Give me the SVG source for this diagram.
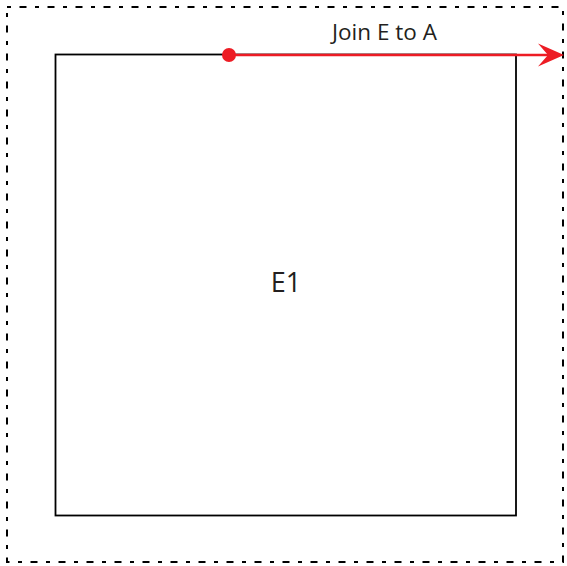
<svg xmlns="http://www.w3.org/2000/svg" width="567" height="566" viewBox="0 0 567 566">
<style>
.frame{fill:none;stroke:#000;stroke-width:2;stroke-dasharray:4 8.5 7 8.5;stroke-dashoffset:0}
.node{fill:#fff;stroke:#000;stroke-width:1.8}
.lbl{font-family:"Open Sans","Noto Sans",sans-serif;fill:#231f20}
.conn{stroke:#ed1c24;stroke-width:2.5;fill:none}
</style>
<rect width="567" height="566" fill="#fff"/>
<path class="frame" d="M7,7 H563 V562 H7 Z" stroke-dasharray="7 8.4" stroke-dashoffset="3"/>
<g id="E1">
<rect class="node" x="55.5" y="54.5" width="460.5" height="461"/>
<text class="lbl" x="286" y="292" font-size="27" text-anchor="middle">E1</text>
</g>
<g id="connectors">
<line class="conn" x1="229" y1="55" x2="550" y2="55"/>
<circle cx="229" cy="55" r="7" fill="#ed1c24"/>
<path d="M564,55 L538,43.5 L548,55 L538,66.5 Z" fill="#ed1c24"/>
<text class="lbl" x="384.5" y="40" font-size="22.5" text-anchor="middle">Join E to A</text>
</g>
</svg>
